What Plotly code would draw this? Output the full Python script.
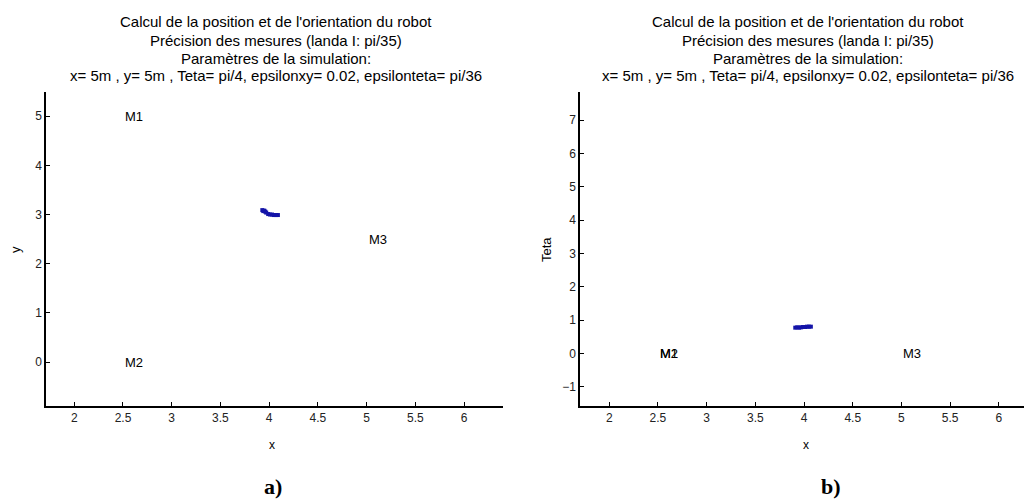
import plotly.graph_objects as go

# ---- data ----
beacon_names = ["M1", "M2", "M3"]
beacon_x = [2.5, 2.5, 5.0]
beacon_y = [5.0, 0.0, 2.5]
beacon_theta = [0.0, 0.0, 0.0]

est_x = [3.93, 3.94, 3.95, 3.96, 3.97, 3.99, 4.01, 4.03, 4.05, 4.07, 4.09]
est_y = [3.09, 3.07, 3.08, 3.06, 3.04, 3.01, 3.00, 3.00, 2.99, 2.99, 2.99]

est_xt = [3.91, 3.93, 3.95, 3.97, 3.99, 4.01, 4.03, 4.05, 4.07]
est_theta = [0.77, 0.78, 0.77, 0.78, 0.79, 0.79, 0.80, 0.80, 0.80]

x_ticks = [2, 2.5, 3, 3.5, 4, 4.5, 5, 5.5, 6]
y_ticks_a = [0, 1, 2, 3, 4, 5]
y_ticks_b = [-1, 0, 1, 2, 3, 4, 5, 6, 7]

title_lines = [
    "Calcul de la position et de l'orientation du robot",
    "Précision des mesures (landa I: pi/35)",
    "Paramètres de la simulation:",
    "x= 5m , y= 5m , Teta= pi/4, epsilonxy= 0.02, epsilonteta= pi/36",
]
title_line_y = [22, 40, 58, 75]

W, H = 1032, 502
OFF = 8  # page body margin
BLUE = "#1414a8"
FONT = "Liberation Sans"

def px(x):
    return (x - OFF) / W

def py(y):
    return (H - (y - OFF)) / H

fig = go.Figure()

fig.add_trace(go.Scatter(x=est_x, y=est_y, mode="markers",
                         marker=dict(symbol="square", size=4, color=BLUE),
                         xaxis="x", yaxis="y", showlegend=False))
fig.add_trace(go.Scatter(x=est_xt, y=est_theta, mode="markers",
                         marker=dict(symbol="square", size=4, color=BLUE),
                         xaxis="x2", yaxis="y2", showlegend=False))

annotations = []
for n, bx, by, bt in zip(beacon_names, beacon_x, beacon_y, beacon_theta):
    annotations.append(dict(x=bx, y=by, xref="x", yref="y", text=n, showarrow=False,
                            xanchor="left", yanchor="middle",
                            font=dict(family=FONT, size=13, color="#000")))
    annotations.append(dict(x=bx, y=bt, xref="x2", yref="y2", text=n, showarrow=False,
                            xanchor="left", yanchor="middle",
                            font=dict(family=FONT, size=13, color="#000")))

for cx in (276, 808):
    for line, ly in zip(title_lines, title_line_y):
        annotations.append(dict(x=px(cx), y=py(ly), xref="paper", yref="paper",
                                text=line, showarrow=False, xanchor="center",
                                yanchor="middle",
                                font=dict(family=FONT, size=15, color="#000")))

def label(x, y, text, size=12, angle=0, family=FONT):
    return dict(x=px(x), y=py(y), xref="paper", yref="paper", text=text,
                showarrow=False, xanchor="center", yanchor="middle", textangle=angle,
                font=dict(family=family, size=size, color="#000"))

annotations.append(label(272, 445, "x"))
annotations.append(label(806, 445, "x"))
annotations.append(label(15, 250, "y", size=13, angle=-90))
annotations.append(label(546, 250, "Teta", size=13, angle=-90))
annotations.append(label(273, 486, "<b>a)</b>", size=22, family="Liberation Serif"))
annotations.append(label(831, 486, "<b>b)</b>", size=22, family="Liberation Serif"))

axis_common = dict(showgrid=False, zeroline=False, showline=True, linecolor="#000",
                   linewidth=1.5, ticks="inside", ticklen=4, tickcolor="#000",
                   tickfont=dict(family=FONT, size=12, color="#222"), mirror=False)

fig.update_layout(
    width=W, height=H,
    margin=dict(l=0, r=0, t=0, b=0),
    paper_bgcolor="white", plot_bgcolor="white",
    xaxis=dict(domain=[px(46), px(503)], range=[1.71, 6.40], tickvals=x_ticks,
               ticktext=[str(t) for t in x_ticks], anchor="y", **axis_common),
    yaxis=dict(domain=[py(406), py(92)], range=[-0.89, 5.49], tickvals=y_ticks_a,
               anchor="x", **axis_common),
    xaxis2=dict(domain=[px(580), px(1031)], range=[1.70, 6.33], tickvals=x_ticks,
                ticktext=[str(t) for t in x_ticks], anchor="y2", **axis_common),
    yaxis2=dict(domain=[py(406), py(92)], range=[-1.58, 7.84], tickvals=y_ticks_b,
                anchor="x2", **axis_common),
    annotations=annotations,
)

fig.write_html("out.html")
